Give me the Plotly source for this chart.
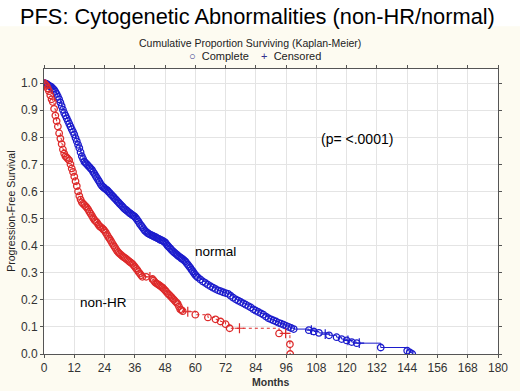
import plotly.graph_objects as go

# ---------------- data ----------------
normal_months = [0, 0.5, 1, 1.5, 2, 2.5, 3, 3.5, 4, 4.5, 5, 5.5, 6, 6.5, 7, 7.5, 8, 8.5, 9, 9.5,
                 10, 10.5, 11, 11.5, 12, 12.5, 13, 13.5, 14, 14.5, 15, 15.5, 16, 16.5, 17, 17.5,
                 18, 18.5, 19, 19.5, 20, 20.5, 21, 21.5, 22, 22.5, 23, 23.5, 24, 24.5, 25, 25.5,
                 26, 26.5, 27, 27.5, 28, 28.5, 29, 29.5, 30, 30.5, 31, 31.5, 32, 32.5, 33, 33.5,
                 34, 34.5, 35, 35.5, 36, 36.5, 37, 37.5, 38, 38.5, 39, 39.5, 40, 40.5, 41, 41.5,
                 42, 42.5, 43, 43.5, 44, 44.5, 45, 45.5, 46, 46.5, 47, 47.5, 48, 48.5, 49, 49.5,
                 50, 50.5, 51, 51.5, 52, 52.5, 53, 53.5, 54, 54.5, 55, 55.5, 56, 56.5, 57, 57.5,
                 58, 58.5, 59, 59.5, 60, 60.5, 61,
                 62, 63, 64, 65, 66, 67, 68, 69, 70, 71, 72, 73, 74, 75, 76, 77, 78, 79,
                 80, 81, 82, 83, 84, 85, 86, 87, 88, 89, 90, 91, 92, 93, 94, 95, 96, 97, 98, 99,
                 105, 107, 109, 113, 116, 118, 120, 122, 124, 133.5, 144, 145, 146]
normal_surv = [1.0, 0.999, 0.997, 0.994, 0.99, 0.988, 0.985, 0.98, 0.975, 0.968, 0.96, 0.95,
               0.94, 0.928, 0.915, 0.902, 0.89, 0.88, 0.87, 0.86, 0.85, 0.84, 0.83, 0.82, 0.81,
               0.797, 0.785, 0.772, 0.76, 0.745, 0.73, 0.72, 0.71, 0.705, 0.70, 0.695, 0.69,
               0.685, 0.68, 0.672, 0.665, 0.657, 0.65, 0.642, 0.635, 0.627, 0.62, 0.616, 0.612,
               0.608, 0.605, 0.60, 0.595, 0.59, 0.585, 0.58, 0.575, 0.57, 0.565, 0.56, 0.555,
               0.55, 0.545, 0.54, 0.535, 0.532, 0.528, 0.524, 0.52, 0.517, 0.513, 0.51, 0.507,
               0.501, 0.495, 0.488, 0.48, 0.474, 0.468, 0.461, 0.455, 0.451, 0.447, 0.444, 0.441,
               0.439, 0.437, 0.434, 0.432, 0.43, 0.427, 0.425, 0.422, 0.42, 0.418, 0.415, 0.412,
               0.406, 0.40, 0.395, 0.39, 0.385, 0.38, 0.376, 0.372, 0.368, 0.364, 0.36, 0.357,
               0.353, 0.35, 0.346, 0.342, 0.336, 0.33, 0.324, 0.318, 0.311, 0.305, 0.298, 0.292,
               0.287, 0.282,
               0.275, 0.268, 0.262, 0.256, 0.25, 0.245, 0.24, 0.235, 0.232, 0.228, 0.225, 0.222,
               0.215, 0.208, 0.202, 0.197, 0.192, 0.187, 0.182, 0.177, 0.172, 0.165, 0.16, 0.155,
               0.15, 0.145, 0.138, 0.132, 0.128, 0.124, 0.12, 0.115, 0.112, 0.108, 0.104, 0.10,
               0.096, 0.092, 0.088, 0.083, 0.078, 0.069, 0.062, 0.055, 0.05, 0.044, 0.04, 0.024,
               0.012, 0.006, 0.0]
normal_cens_months = [106, 111.5, 120.5, 125]
normal_cens_surv = [0.088, 0.073, 0.05, 0.04]

nonhr_months = [0, 0.5, 1, 1.5, 2, 2.5, 3, 3.5, 4, 4.5, 5, 5.5, 6, 6.5, 7, 7.5, 8, 8.5, 9, 9.5,
                10, 10.5, 11, 11.5, 12, 12.5, 13, 13.5, 14, 14.5, 15, 15.5, 16, 16.5, 17, 17.5,
                18, 18.5, 19, 19.5, 20, 20.5, 21, 21.5, 22, 22.5, 23, 23.5, 24, 24.5, 25, 25.5,
                26, 26.5, 27, 27.5, 28, 28.5, 29, 29.5, 30, 30.5, 31, 31.5, 32, 32.5, 33, 33.5,
                34, 34.5, 35, 35.5, 36, 36.5, 37, 37.5, 38, 38.5, 39, 40.5, 43, 43.5, 44, 44.5,
                45, 45.5, 46, 46.5, 47, 47.5, 48, 48.5, 49, 49.5, 50, 50.5, 51, 51.5, 52, 52.5,
                53, 53.5, 54, 54.5, 55, 60, 65, 68, 70, 72, 73.6, 93.2, 97.5, 97.6]
nonhr_surv = [1.0, 0.995, 0.99, 0.98, 0.97, 0.955, 0.94, 0.93, 0.905, 0.88, 0.86, 0.84, 0.815,
              0.795, 0.775, 0.755, 0.74, 0.73, 0.725, 0.72, 0.715, 0.70, 0.685, 0.672, 0.655,
              0.638, 0.62, 0.60, 0.583, 0.57, 0.56, 0.555, 0.55, 0.545, 0.54, 0.533, 0.525,
              0.518, 0.51, 0.502, 0.495, 0.49, 0.485, 0.478, 0.472, 0.468, 0.465, 0.46, 0.455,
              0.448, 0.44, 0.432, 0.425, 0.418, 0.41, 0.402, 0.395, 0.388, 0.38, 0.375, 0.37,
              0.366, 0.362, 0.358, 0.355, 0.352, 0.348, 0.344, 0.34, 0.337, 0.333, 0.328, 0.322,
              0.316, 0.31, 0.303, 0.297, 0.291, 0.285, 0.285, 0.277, 0.271, 0.265, 0.261, 0.258,
              0.255, 0.252, 0.248, 0.245, 0.24, 0.235, 0.23, 0.224, 0.22, 0.215, 0.21, 0.205,
              0.20, 0.195, 0.19, 0.185, 0.175, 0.165, 0.162, 0.158, 0.145, 0.135, 0.128, 0.12,
              0.11, 0.095, 0.076, 0.036, 0.0]
nonhr_cens_months = [42, 57, 77.5, 95.8]
nonhr_cens_surv = [0.285, 0.156, 0.095, 0.076]

x_ticks = list(range(0, 181, 12))
y_ticks = [0.0, 0.1, 0.2, 0.3, 0.4, 0.5, 0.6, 0.7, 0.8, 0.9, 1.0]

BLUE = "#1c1ccc"
RED = "#dd2a2a"
FONT = "Liberation Sans, Arial, sans-serif"

fig = go.Figure()

fig.add_trace(go.Scatter(
    x=normal_months, y=normal_surv, mode="lines+markers", line_shape="hv",
    line=dict(color=BLUE, width=1),
    marker=dict(symbol="circle-open", size=6.5, color=BLUE, line=dict(width=1.3)),
    showlegend=False, name="normal"))
fig.add_trace(go.Scatter(
    x=normal_cens_months, y=normal_cens_surv, mode="markers",
    marker=dict(symbol="cross-thin-open", size=7, color=BLUE, line=dict(width=1.2, color=BLUE)),
    showlegend=False))

fig.add_trace(go.Scatter(
    x=nonhr_months, y=nonhr_surv, mode="lines+markers", line_shape="hv",
    line=dict(color=RED, width=1, dash="dot"),
    marker=dict(symbol="circle-open", size=6.5, color=RED, line=dict(width=1.3)),
    showlegend=False, name="non-HR"))
fig.add_trace(go.Scatter(
    x=nonhr_cens_months, y=nonhr_cens_surv, mode="markers",
    marker=dict(symbol="cross-thin-open", size=7, color=RED, line=dict(width=1.2, color=RED)),
    showlegend=False))

axis_common = dict(
    showline=True, linecolor="#555555", linewidth=1, mirror="ticks",
    ticks="outside", ticklen=3, tickcolor="#555555",
    showgrid=True, gridcolor="#e4e4e4", gridwidth=1, zeroline=False,
    tickfont=dict(family=FONT, size=12, color="#333333"),
)

fig.update_xaxes(range=[0, 180], tickvals=x_ticks, **axis_common)
fig.update_yaxes(range=[0, 1.052], tickvals=y_ticks, tickformat=".1f", **axis_common)

fig.update_layout(
    width=520, height=391,
    margin=dict(l=44, r=17, t=69, b=37),
    paper_bgcolor="#fdfbf1", plot_bgcolor="#ffffff",
    font=dict(family=FONT),
    shapes=[dict(type="rect", xref="paper", yref="paper", x0=-0.2, x1=1.1, y0=1.15, y1=1.3,
                 fillcolor="#ffffff", line=dict(width=0), layer="below")],
    annotations=[
        dict(text="PFS: Cytogenetic Abnormalities (non-HR/normal)", xref="paper", yref="paper",
             x=(18 - 44) / 459, y=(354 - 16) / 285, xanchor="left", yanchor="middle",
             showarrow=False, font=dict(family=FONT, size=21.8, color="#000000")),
        dict(text="Cumulative Proportion Surviving (Kaplan-Meier)", xref="paper", yref="paper",
             x=(252 - 44) / 459, y=(354 - 43) / 285, xanchor="center", yanchor="middle",
             showarrow=False, font=dict(family=FONT, size=10.5, color="#222222")),
        dict(text='<span style="color:#33338f">○</span>  Complete    <span style="color:#33338f">+</span>  Censored',
             xref="paper", yref="paper",
             x=(257 - 44) / 459, y=(354 - 56) / 285, xanchor="center", yanchor="middle",
             showarrow=False, font=dict(family=FONT, size=11, color="#222222")),
        dict(text="Progression-Free Survival", xref="paper", yref="paper",
             x=(10 - 44) / 459, y=0.5, textangle=-90, xanchor="center", yanchor="middle",
             showarrow=False, font=dict(family=FONT, size=10.5, color="#222222")),
        dict(text="<b>Months</b>", xref="paper", yref="paper",
             x=(273 - 44) / 459, y=-(382 - 354) / 285, xanchor="center", yanchor="middle",
             showarrow=False, font=dict(family=FONT, size=10.5, color="#333333")),
        dict(text="(p= <.0001)", x=124, y=0.793, showarrow=False,
             font=dict(family=FONT, size=14, color="#000000")),
        dict(text="normal", x=68, y=0.377, showarrow=False,
             font=dict(family=FONT, size=13.5, color="#000000")),
        dict(text="non-HR", x=23.4, y=0.189, showarrow=False,
             font=dict(family=FONT, size=13.5, color="#000000")),
    ],
)

fig.write_html("out.html", config={"displayModeBar": False},
               post_script="document.body.style.margin='0';")
